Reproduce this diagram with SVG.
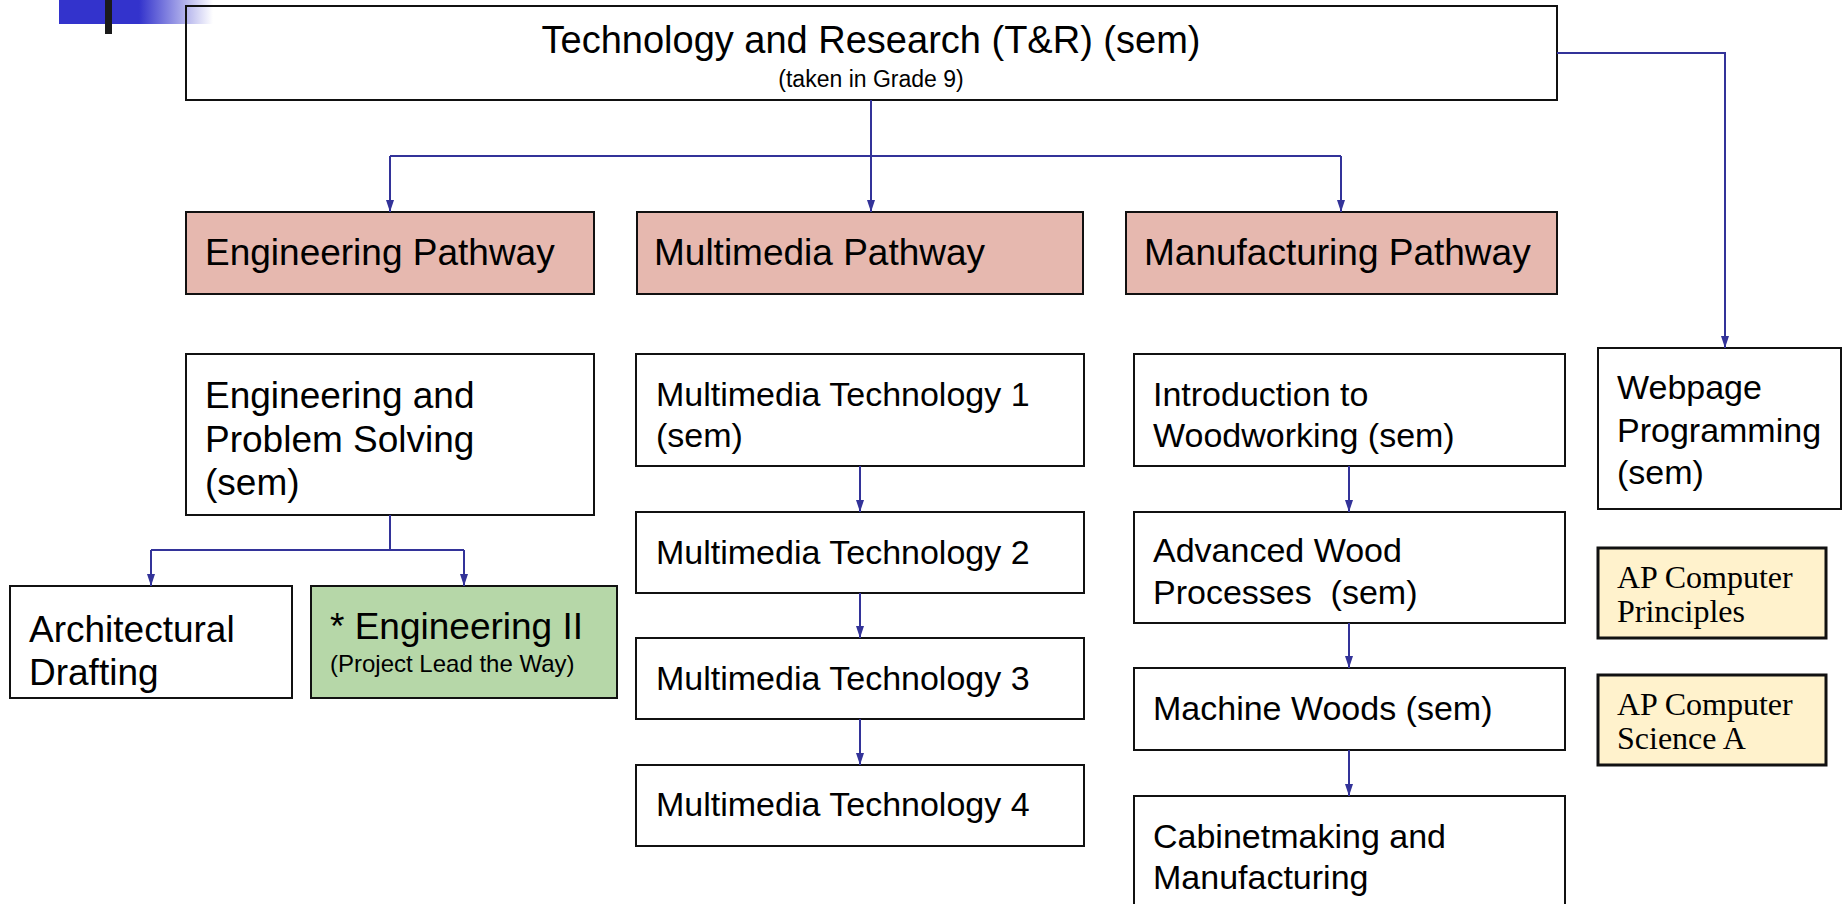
<svg xmlns="http://www.w3.org/2000/svg" width="1842" height="904" viewBox="0 0 1842 904">
  <defs>
    <linearGradient id="fade" x1="0" y1="0" x2="1" y2="0">
      <stop offset="0" stop-color="#3333CC"/>
      <stop offset="0.52" stop-color="#3333CC"/>
      <stop offset="1" stop-color="#3333CC" stop-opacity="0"/>
    </linearGradient>
    <marker id="arr" markerUnits="userSpaceOnUse" markerWidth="12" markerHeight="10" refX="12" refY="5" orient="auto">
      <path d="M0,1 L12,5 L0,9 z" fill="#333399"/>
    </marker>
    <style>
      .box { fill: #FFFFFF; stroke: #111111; stroke-width: 2; }
      .path { fill: #E6B8AF; stroke: #111111; stroke-width: 2; }
      .green { fill: #B6D7A8; stroke: #111111; stroke-width: 2; }
      .ap { fill: #FFF2CC; stroke: #111111; stroke-width: 3; }
      .t { font-family: "Liberation Sans", Arial, sans-serif; fill: #000000; }
      .s { font-family: "Liberation Serif", "Times New Roman", serif; fill: #000000; font-size: 32px; }
      .f37 { font-size: 37px; }
      .f34 { font-size: 34px; }
      .conn { fill: none; stroke: #333399; stroke-width: 2; }
    </style>
  </defs>
  <rect x="0" y="0" width="1842" height="904" fill="#FFFFFF"/>

  <!-- top-left decoration -->
  <g id="decoration">
    <rect x="59" y="0" width="154" height="24" fill="url(#fade)"/>
    <rect x="105" y="0" width="7" height="34" fill="#1A1A1A"/>
  </g>

  <g id="tr">
    <rect x="186" y="6" width="1371" height="94" fill="none" stroke="#111111" stroke-width="2"/>
    <text class="t" x="871" y="53" font-size="38" text-anchor="middle">Technology and Research (T&amp;R) (sem)</text>
    <text class="t" x="871" y="87" font-size="23" text-anchor="middle">(taken in Grade 9)</text>
  </g>

  <g id="eng-pathway">
    <rect class="path" x="186" y="212" width="408" height="82"/>
    <text class="t f37" x="205" y="265">Engineering Pathway</text>
  </g>
  <g id="mm-pathway">
    <rect class="path" x="637" y="212" width="446" height="82"/>
    <text class="t f37" x="654" y="265">Multimedia Pathway</text>
  </g>
  <g id="mfg-pathway">
    <rect class="path" x="1126" y="212" width="431" height="82"/>
    <text class="t f37" x="1144" y="265">Manufacturing Pathway</text>
  </g>

  <g id="eps">
    <rect class="box" x="186" y="354" width="408" height="161"/>
    <text class="t f37" x="205" y="408">Engineering and</text>
    <text class="t f37" x="205" y="452">Problem Solving</text>
    <text class="t f37" x="205" y="495">(sem)</text>
  </g>
  <g id="arch">
    <rect class="box" x="10" y="586" width="282" height="112"/>
    <text class="t f37" x="29" y="642">Architectural</text>
    <text class="t f37" x="29" y="685">Drafting</text>
  </g>
  <g id="eng2">
    <rect class="green" x="311" y="586" width="306" height="112"/>
    <text class="t f37" x="330" y="639">* Engineering II</text>
    <text class="t" x="330" y="672" font-size="24">(Project Lead the Way)</text>
  </g>

  <g id="mt1">
    <rect class="box" x="636" y="354" width="448" height="112"/>
    <text class="t f34" x="656" y="406">Multimedia Technology 1</text>
    <text class="t f34" x="656" y="447">(sem)</text>
  </g>
  <g id="mt2">
    <rect class="box" x="636" y="512" width="448" height="81"/>
    <text class="t f34" x="656" y="564">Multimedia Technology 2</text>
  </g>
  <g id="mt3">
    <rect class="box" x="636" y="638" width="448" height="81"/>
    <text class="t f34" x="656" y="690">Multimedia Technology 3</text>
  </g>
  <g id="mt4">
    <rect class="box" x="636" y="765" width="448" height="81"/>
    <text class="t f34" x="656" y="816">Multimedia Technology 4</text>
  </g>

  <g id="intro-wood">
    <rect class="box" x="1134" y="354" width="431" height="112"/>
    <text class="t f34" x="1153" y="406">Introduction to</text>
    <text class="t f34" x="1153" y="447">Woodworking (sem)</text>
  </g>
  <g id="adv-wood">
    <rect class="box" x="1134" y="512" width="431" height="111"/>
    <text class="t f34" x="1153" y="562">Advanced Wood</text>
    <text class="t f34" x="1153" y="604" xml:space="preserve">Processes  (sem)</text>
  </g>
  <g id="machine-woods">
    <rect class="box" x="1134" y="668" width="431" height="82"/>
    <text class="t f34" x="1153" y="720">Machine Woods (sem)</text>
  </g>
  <g id="cabinet">
    <rect class="box" x="1134" y="796" width="431" height="140"/>
    <text class="t f34" x="1153" y="848">Cabinetmaking and</text>
    <text class="t f34" x="1153" y="889">Manufacturing</text>
  </g>

  <g id="webpage">
    <rect class="box" x="1598" y="348" width="243" height="161"/>
    <text class="t f34" x="1617" y="399">Webpage</text>
    <text class="t f34" x="1617" y="442">Programming</text>
    <text class="t f34" x="1617" y="484">(sem)</text>
  </g>
  <g id="ap-csp">
    <rect class="ap" x="1598" y="548" width="228" height="90"/>
    <text class="s" x="1617" y="588">AP Computer</text>
    <text class="s" x="1617" y="622">Principles</text>
  </g>
  <g id="ap-csa">
    <rect class="ap" x="1598" y="675" width="228" height="90"/>
    <text class="s" x="1617" y="715">AP Computer</text>
    <text class="s" x="1617" y="749">Science A</text>
  </g>

  <g id="connectors">
    <path class="conn" d="M871,100 V212" marker-end="url(#arr)"/>
    <path class="conn" d="M390,156 H1341"/>
    <path class="conn" d="M390,156 V212" marker-end="url(#arr)"/>
    <path class="conn" d="M1341,156 V212" marker-end="url(#arr)"/>
    <path class="conn" d="M1557,53 H1725 V348" marker-end="url(#arr)"/>
    <path class="conn" d="M390,515 V550"/>
    <path class="conn" d="M151,550 H464"/>
    <path class="conn" d="M151,550 V586" marker-end="url(#arr)"/>
    <path class="conn" d="M464,550 V586" marker-end="url(#arr)"/>
    <path class="conn" d="M860,466 V512" marker-end="url(#arr)"/>
    <path class="conn" d="M860,593 V638" marker-end="url(#arr)"/>
    <path class="conn" d="M860,719 V765" marker-end="url(#arr)"/>
    <path class="conn" d="M1349,466 V512" marker-end="url(#arr)"/>
    <path class="conn" d="M1349,623 V668" marker-end="url(#arr)"/>
    <path class="conn" d="M1349,750 V796" marker-end="url(#arr)"/>
  </g>
</svg>
